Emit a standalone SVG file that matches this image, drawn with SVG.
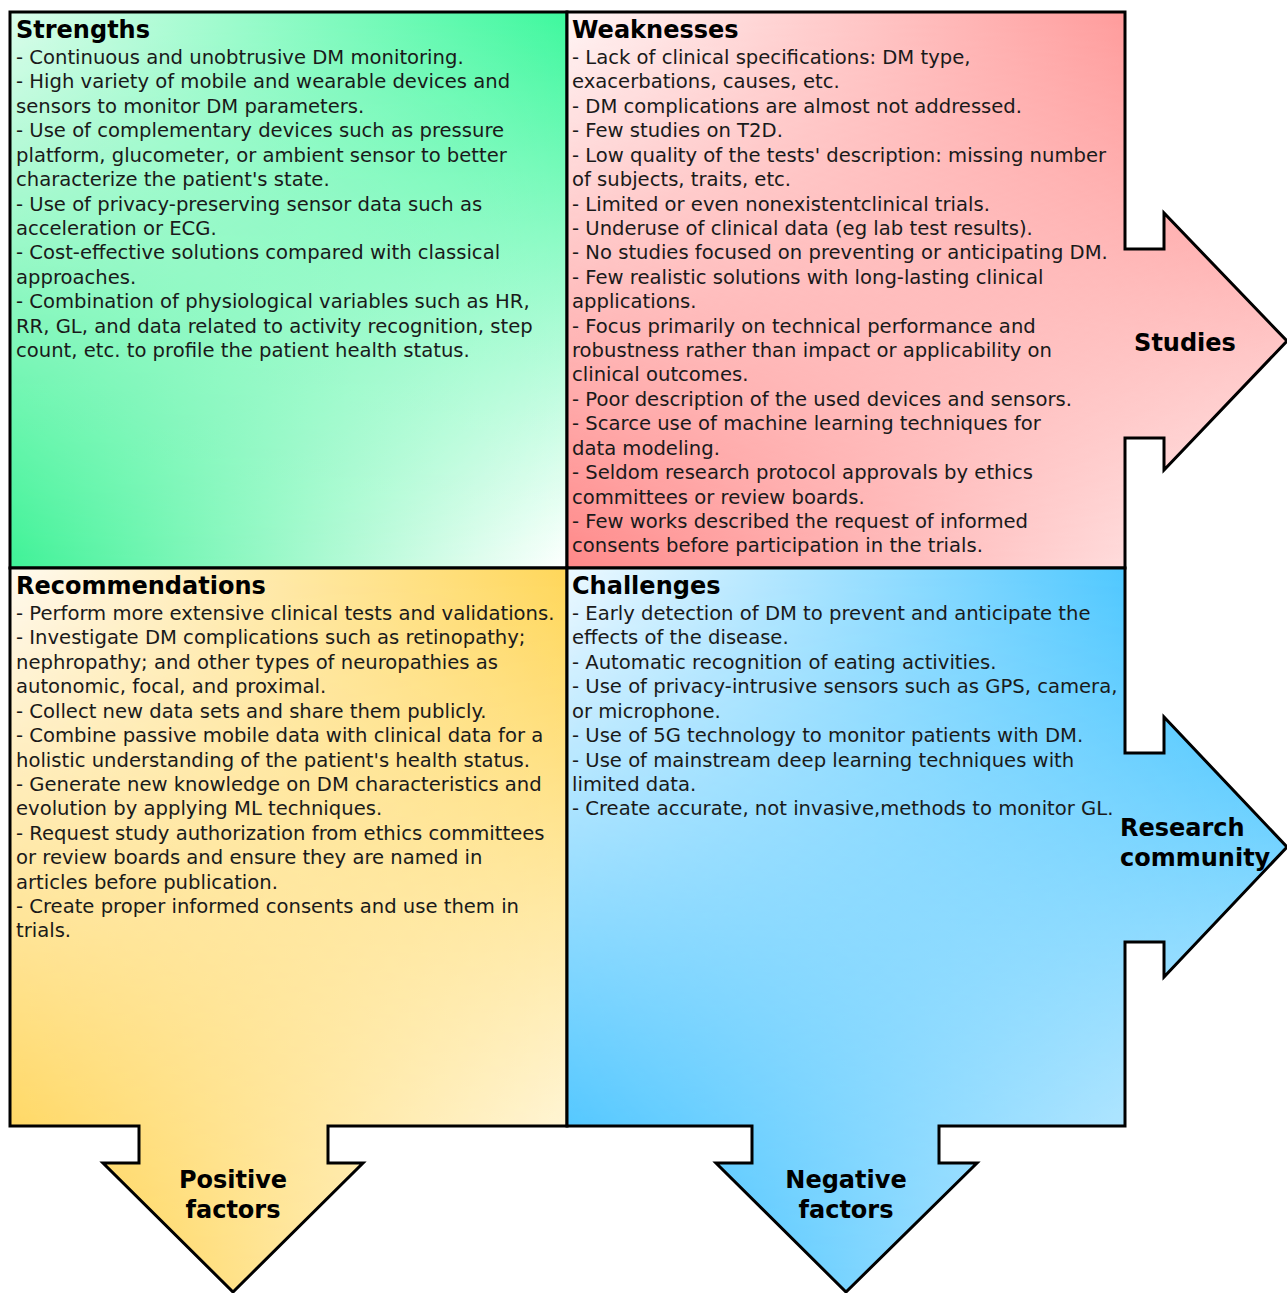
<svg xmlns="http://www.w3.org/2000/svg" width="1287" height="1293" viewBox="0 0 1287 1293">
<style>
.sh{fill:none;stroke:#000;stroke-width:3;stroke-linejoin:miter}
.hd{font-family:"DejaVu Sans",Verdana,sans-serif;font-weight:bold;font-size:24px;fill:#000}
.bd{font-family:"DejaVu Sans",Verdana,sans-serif;font-size:19.6px;fill:#1a1a1a}
.lb{font-family:"DejaVu Sans",Verdana,sans-serif;font-weight:bold;font-size:24px;fill:#000}
</style>
<defs>
<!-- bilinear (4-corner) fills: top-edge gradient as base, bottom-edge gradient faded in vertically -->
<linearGradient id="gTopG" gradientUnits="userSpaceOnUse" x1="10" y1="0" x2="567" y2="0"><stop offset="0" stop-color="#dcfdec"/><stop offset="1" stop-color="#3ef89e"/></linearGradient>
<linearGradient id="gBotG" gradientUnits="userSpaceOnUse" x1="10" y1="0" x2="567" y2="0"><stop offset="0" stop-color="#3ef296"/><stop offset="1" stop-color="#ffffff"/></linearGradient>
<linearGradient id="vG" gradientUnits="userSpaceOnUse" x1="0" y1="12" x2="0" y2="568"><stop offset="0" stop-color="#000"/><stop offset="1" stop-color="#fff"/></linearGradient>
<mask id="mG" maskUnits="userSpaceOnUse" x="0" y="0" width="1287" height="1293"><rect x="0" y="0" width="1287" height="1293" fill="url(#vG)"/></mask>

<linearGradient id="gTopR" gradientUnits="userSpaceOnUse" x1="567" y1="0" x2="1287" y2="0"><stop offset="0" stop-color="#fff6f6"/><stop offset="1" stop-color="#ff8282"/></linearGradient>
<linearGradient id="gBotR" gradientUnits="userSpaceOnUse" x1="567" y1="0" x2="1287" y2="0"><stop offset="0" stop-color="#ff8888"/><stop offset="1" stop-color="#fff4f4"/></linearGradient>
<linearGradient id="vR" gradientUnits="userSpaceOnUse" x1="0" y1="12" x2="0" y2="568"><stop offset="0" stop-color="#000"/><stop offset="1" stop-color="#fff"/></linearGradient>
<mask id="mR" maskUnits="userSpaceOnUse" x="0" y="0" width="1287" height="1293"><rect x="0" y="0" width="1287" height="1293" fill="url(#vR)"/></mask>

<linearGradient id="gTopY" gradientUnits="userSpaceOnUse" x1="10" y1="0" x2="567" y2="0"><stop offset="0" stop-color="#fffaf0"/><stop offset="1" stop-color="#ffd75a"/></linearGradient>
<linearGradient id="gBotY" gradientUnits="userSpaceOnUse" x1="10" y1="0" x2="567" y2="0"><stop offset="0" stop-color="#ffce3d"/><stop offset="1" stop-color="#fffdf8"/></linearGradient>
<linearGradient id="vY" gradientUnits="userSpaceOnUse" x1="0" y1="568" x2="0" y2="1292"><stop offset="0" stop-color="#000"/><stop offset="1" stop-color="#fff"/></linearGradient>
<mask id="mY" maskUnits="userSpaceOnUse" x="0" y="0" width="1287" height="1293"><rect x="0" y="0" width="1287" height="1293" fill="url(#vY)"/></mask>

<linearGradient id="gTopB" gradientUnits="userSpaceOnUse" x1="567" y1="0" x2="1287" y2="0"><stop offset="0" stop-color="#eef9ff"/><stop offset="1" stop-color="#22baff"/></linearGradient>
<linearGradient id="gBotB" gradientUnits="userSpaceOnUse" x1="567" y1="0" x2="1287" y2="0"><stop offset="0" stop-color="#27b9ff"/><stop offset="1" stop-color="#fafcff"/></linearGradient>
<linearGradient id="vB" gradientUnits="userSpaceOnUse" x1="0" y1="568" x2="0" y2="1292"><stop offset="0" stop-color="#000"/><stop offset="1" stop-color="#fff"/></linearGradient>
<mask id="mB" maskUnits="userSpaceOnUse" x="0" y="0" width="1287" height="1293"><rect x="0" y="0" width="1287" height="1293" fill="url(#vB)"/></mask>

<path id="pG" d="M10,12 H567 V568 H10 Z"/>
<path id="pR" d="M567,12 H1125 V249 H1164 V213 L1287,341 L1164,470 V438 H1125 V568 H567 Z"/>
<path id="pY" d="M10,568 H567 V1126 H328 V1163 H363 L233,1292 L103,1163 H139 V1126 H10 Z"/>
<path id="pB" d="M567,568 H1125 V753 H1164 V717 L1287,847 L1164,977 V942 H1125 V1126 H939 V1163 H977 L846,1292 L716,1163 H752 V1126 H567 Z"/>
</defs>
<rect width="1287" height="1293" fill="#fff"/>

<g id="strengths">
<use href="#pG" fill="url(#gTopG)"/>
<use href="#pG" fill="url(#gBotG)" mask="url(#mG)"/>
<use href="#pG" class="sh"/>
<text class="hd" x="16" y="38">Strengths</text>
<text class="bd" x="16" y="64">
<tspan x="16" dy="0">- Continuous and unobtrusive DM monitoring.</tspan>
<tspan x="16" dy="24.42">- High variety of mobile and wearable devices and</tspan>
<tspan x="16" dy="24.42">sensors to monitor DM parameters.</tspan>
<tspan x="16" dy="24.42">- Use of complementary devices such as pressure</tspan>
<tspan x="16" dy="24.42">platform, glucometer, or ambient sensor to better</tspan>
<tspan x="16" dy="24.42">characterize the patient's state.</tspan>
<tspan x="16" dy="24.42">- Use of privacy-preserving sensor data such as</tspan>
<tspan x="16" dy="24.42">acceleration or ECG.</tspan>
<tspan x="16" dy="24.42">- Cost-effective solutions compared with classical</tspan>
<tspan x="16" dy="24.42">approaches.</tspan>
<tspan x="16" dy="24.42">- Combination of physiological variables such as HR,</tspan>
<tspan x="16" dy="24.42">RR, GL, and data related to activity recognition, step</tspan>
<tspan x="16" dy="24.42">count, etc. to profile the patient health status.</tspan>
</text>
</g>

<g id="weaknesses">
<use href="#pR" fill="url(#gTopR)"/>
<use href="#pR" fill="url(#gBotR)" mask="url(#mR)"/>
<use href="#pR" class="sh"/>
<text class="hd" x="572" y="38">Weaknesses</text>
<text class="bd" x="572" y="64">
<tspan x="572" dy="0">- Lack of clinical specifications: DM type,</tspan>
<tspan x="572" dy="24.42">exacerbations, causes, etc.</tspan>
<tspan x="572" dy="24.42">- DM complications are almost not addressed.</tspan>
<tspan x="572" dy="24.42">- Few studies on T2D.</tspan>
<tspan x="572" dy="24.42">- Low quality of the tests' description: missing number</tspan>
<tspan x="572" dy="24.42">of subjects, traits, etc.</tspan>
<tspan x="572" dy="24.42">- Limited or even nonexistentclinical trials.</tspan>
<tspan x="572" dy="24.42">- Underuse of clinical data (eg lab test results).</tspan>
<tspan x="572" dy="24.42">- No studies focused on preventing or anticipating DM.</tspan>
<tspan x="572" dy="24.42">- Few realistic solutions with long-lasting clinical</tspan>
<tspan x="572" dy="24.42">applications.</tspan>
<tspan x="572" dy="24.42">- Focus primarily on technical performance and</tspan>
<tspan x="572" dy="24.42">robustness rather than impact or applicability on</tspan>
<tspan x="572" dy="24.42">clinical outcomes.</tspan>
<tspan x="572" dy="24.42">- Poor description of the used devices and sensors.</tspan>
<tspan x="572" dy="24.42">- Scarce use of machine learning techniques for</tspan>
<tspan x="572" dy="24.42">data modeling.</tspan>
<tspan x="572" dy="24.42">- Seldom research protocol approvals by ethics</tspan>
<tspan x="572" dy="24.42">committees or review boards.</tspan>
<tspan x="572" dy="24.42">- Few works described the request of informed</tspan>
<tspan x="572" dy="24.42">consents before participation in the trials.</tspan>
</text>
<text class="lb" x="1185" y="351" text-anchor="middle">Studies</text>
</g>

<g id="recommendations">
<use href="#pY" fill="url(#gTopY)"/>
<use href="#pY" fill="url(#gBotY)" mask="url(#mY)"/>
<use href="#pY" class="sh"/>
<text class="hd" x="16" y="594">Recommendations</text>
<text class="bd" x="16" y="620">
<tspan x="16" dy="0">- Perform more extensive clinical tests and validations.</tspan>
<tspan x="16" dy="24.42">- Investigate DM complications such as retinopathy;</tspan>
<tspan x="16" dy="24.42">nephropathy; and other types of neuropathies as</tspan>
<tspan x="16" dy="24.42">autonomic, focal, and proximal.</tspan>
<tspan x="16" dy="24.42">- Collect new data sets and share them publicly.</tspan>
<tspan x="16" dy="24.42">- Combine passive mobile data with clinical data for a</tspan>
<tspan x="16" dy="24.42">holistic understanding of the patient's health status.</tspan>
<tspan x="16" dy="24.42">- Generate new knowledge on DM characteristics and</tspan>
<tspan x="16" dy="24.42">evolution by applying ML techniques.</tspan>
<tspan x="16" dy="24.42">- Request study authorization from ethics committees</tspan>
<tspan x="16" dy="24.42">or review boards and ensure they are named in</tspan>
<tspan x="16" dy="24.42">articles before publication.</tspan>
<tspan x="16" dy="24.42">- Create proper informed consents and use them in</tspan>
<tspan x="16" dy="24.42">trials.</tspan>
</text>
<text class="lb" text-anchor="middle"><tspan x="233" y="1188">Positive</tspan><tspan x="233" y="1218">factors</tspan></text>
</g>

<g id="challenges">
<use href="#pB" fill="url(#gTopB)"/>
<use href="#pB" fill="url(#gBotB)" mask="url(#mB)"/>
<use href="#pB" class="sh"/>
<text class="hd" x="572" y="594">Challenges</text>
<text class="bd" x="572" y="620">
<tspan x="572" dy="0">- Early detection of DM to prevent and anticipate the</tspan>
<tspan x="572" dy="24.42">effects of the disease.</tspan>
<tspan x="572" dy="24.42">- Automatic recognition of eating activities.</tspan>
<tspan x="572" dy="24.42">- Use of privacy-intrusive sensors such as GPS, camera,</tspan>
<tspan x="572" dy="24.42">or microphone.</tspan>
<tspan x="572" dy="24.42">- Use of 5G technology to monitor patients with DM.</tspan>
<tspan x="572" dy="24.42">- Use of mainstream deep learning techniques with</tspan>
<tspan x="572" dy="24.42">limited data.</tspan>
<tspan x="572" dy="24.42">- Create accurate, not invasive,methods to monitor GL.</tspan>
</text>
<text class="lb"><tspan x="1120" y="836">Research</tspan><tspan x="1120" y="866">community</tspan></text>
<text class="lb" text-anchor="middle"><tspan x="846" y="1188">Negative</tspan><tspan x="846" y="1218">factors</tspan></text>
</g>

<g id="connectors"/>
</svg>
